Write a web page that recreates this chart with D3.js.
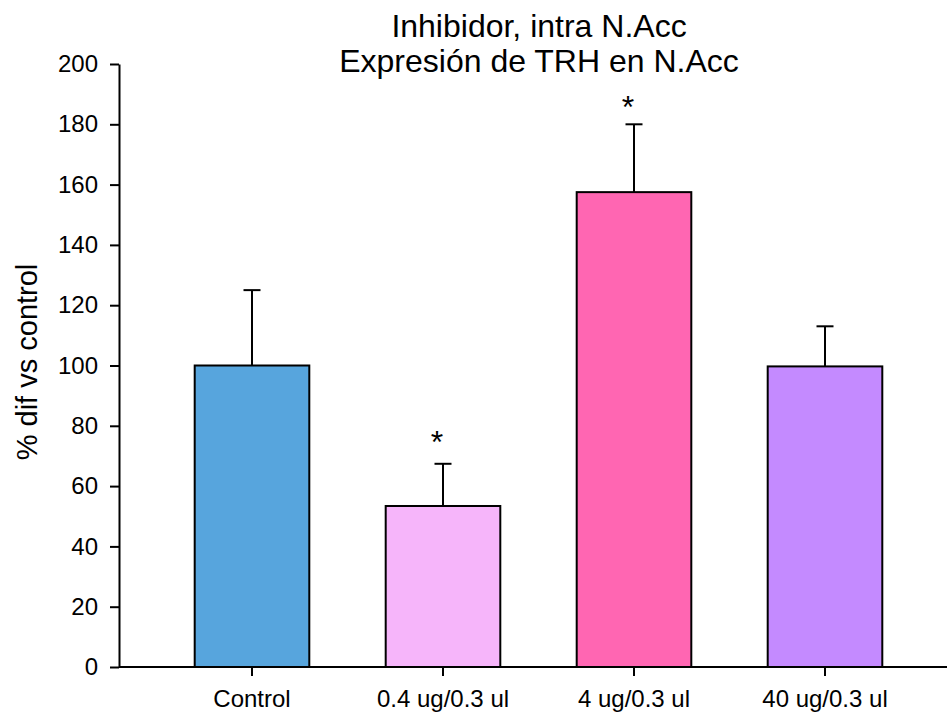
<!DOCTYPE html>
<html lang="es">
<head>
<meta charset="UTF-8">
<title>TRH N.Acc</title>
<script src="https://d3js.org/d3.v7.min.js"></script>
<style>
  body { margin: 0; background: #fff; }
  text { font-family: "Liberation Sans", Arial, sans-serif; fill: #000; }
</style>
</head>
<body>
<script>
// data
const groups = ['Control', '0.4 ug/0.3 ul', '4 ug/0.3 ul', '40 ug/0.3 ul'];
const means = [100, 53.4, 157.5, 99.7];
const errors = [25, 14, 22.5, 13.3];
const starAt = [null, 77, 188, null];   // where the * marks sit, in % units
const colors = ['#57a5dd', '#f6b5fa', '#ff66b2', '#c48aff'];
const yTicks = [0, 20, 40, 60, 80, 100, 120, 140, 160, 180, 200];

const width = 947, height = 714;
const font = '"Liberation Sans", Arial, sans-serif';

const svg = d3.select('body').append('svg')
  .attr('width', width).attr('height', height);

const y = d3.scaleLinear().domain([0, 200]).range([667, 64]);
const x = d3.scaleBand().domain(groups)
  .range([156.5, 920.5])
  .paddingInner(0.4).paddingOuter(0.2);

const rows = groups.map((g, i) => ({ g, m: means[i], e: errors[i], s: starAt[i], c: colors[i] }));

// bars
svg.append('g').selectAll('rect')
  .data(rows)
  .join('rect')
    .attr('x', d => x(d.g))
    .attr('y', d => y(d.m))
    .attr('width', x.bandwidth())
    .attr('height', d => y(0) - y(d.m))
    .style('fill', d => d.c)
    .style('stroke', '#000')
    .style('stroke-width', 2);

// error bars, upper side only
const eb = svg.append('g').selectAll('g')
  .data(rows)
  .join('g')
  .attr('transform', d => `translate(${x(d.g) + x.bandwidth() / 2},0)`);
eb.append('line')
  .attr('y1', d => y(d.m)).attr('y2', d => y(d.m + d.e))
  .style('stroke', '#000').style('stroke-width', 2);
eb.append('line')
  .attr('x1', -8.5).attr('x2', 8.5)
  .attr('y1', d => y(d.m + d.e)).attr('y2', d => y(d.m + d.e))
  .style('stroke', '#000').style('stroke-width', 2);

// significance stars
svg.append('g').selectAll('text')
  .data(rows.filter(d => d.s != null))
  .join('text')
    .attr('x', d => x(d.g) + x.bandwidth() / 2 - 6)
    .attr('y', d => y(d.s) + 18)
    .attr('text-anchor', 'middle')
    .style('font-size', '32px')
    .text('*');

// y axis
const yAxis = svg.append('g')
  .attr('transform', 'translate(119,0)')
  .call(d3.axisLeft(y).tickValues(yTicks).tickSize(9).tickPadding(12).tickSizeOuter(0));
yAxis.select('.domain').attr('stroke-width', 2);
yAxis.selectAll('.tick line').attr('stroke-width', 2);
yAxis.selectAll('.tick text').style('font-size', '24px').style('font-family', font);

// x axis
const xAxis = svg.append('g')
  .attr('transform', `translate(0,${y(0)})`)
  .call(d3.axisBottom(x).tickSize(9).tickPadding(14).tickSizeOuter(0));
xAxis.select('.domain').attr('d', `M119,0H${width}`).attr('stroke-width', 2);
xAxis.selectAll('.tick line').attr('stroke-width', 2);
xAxis.selectAll('.tick text').style('font-size', '24px').style('font-family', font);

// y label
svg.append('text')
  .attr('transform', 'translate(37,362) rotate(-90)')
  .attr('text-anchor', 'middle')
  .style('font-size', '29px')
  .text('% dif vs control');

// title
const title = svg.append('text')
  .attr('text-anchor', 'middle')
  .style('font-size', '32px');
title.selectAll('tspan')
  .data(['Inhibidor, intra N.Acc', 'Expresión de TRH en N.Acc'])
  .join('tspan')
    .attr('x', 539)
    .attr('y', (d, i) => i ? 72 : 37)
    .text(d => d);
</script>
</body>
</html>
